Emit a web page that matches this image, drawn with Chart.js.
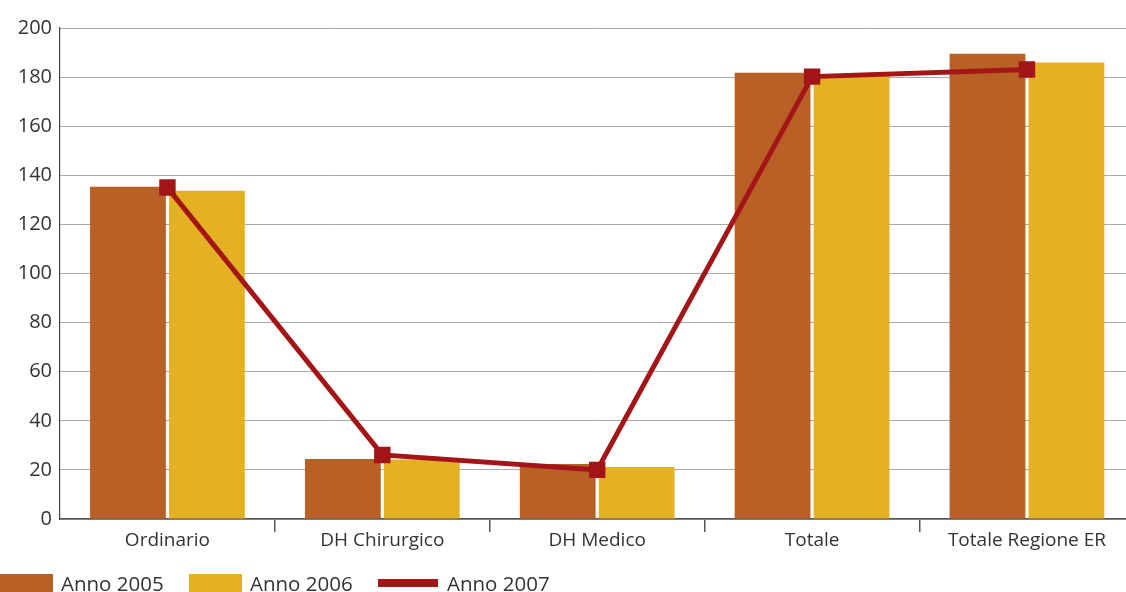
<!DOCTYPE html>
<html>
<head>
<meta charset="utf-8">
<script src="https://cdn.jsdelivr.net/npm/chart.js@4"></script>
<style>
    html, body { margin: 0; padding: 0; background: #fff; overflow: hidden; }
    #wrap { position: relative; width: 1126px; height: 592px; overflow: hidden; }
    #chart { position: absolute; left: 0; top: 0; }
    .lg { position: absolute; font-family: "Open Sans", sans-serif; font-size: 20.5px; line-height: 20.5px; color: #333; white-space: nowrap; }
    .sw { position: absolute; }
</style>
</head>
<body>
<div id="wrap">
    <canvas id="chart" width="1146" height="592"></canvas>
    <div id="legend"></div>
</div>
<script>
// Chart data
const categories = ['Ordinario', 'DH Chirurgico', 'DH Medico', 'Totale', 'Totale Regione ER'];
const anno2005 = [135.3, 24.4, 22.4, 181.8, 189.5];
const anno2006 = [133.7, 24.2, 21.2, 180.5, 185.9];
const anno2007 = [135.0, 26.1, 20.0, 180.2, 183.1];
const seriesNames = ['Anno 2005', 'Anno 2006', 'Anno 2007'];
const yTicks = [0, 20, 40, 60, 80, 100, 120, 140, 160, 180, 200];

const colors = ['#b96026', '#e5b124', '#a41518'];

const ctx = document.getElementById('chart').getContext('2d');
new Chart(ctx, {
    data: {
        labels: categories,
        datasets: [{
            type: 'line',
            label: seriesNames[2],
            data: anno2007,
            borderColor: colors[2],
            backgroundColor: colors[2],
            borderWidth: 5,
            tension: 0,
            pointStyle: 'rect',
            pointRadius: 11.6,
            pointBorderWidth: 0,
            pointBackgroundColor: colors[2],
            order: 0
        }, {
            type: 'bar',
            label: seriesNames[0],
            data: anno2005,
            backgroundColor: colors[0],
            categoryPercentage: 0.735,
            barPercentage: 0.96,
            order: 1
        }, {
            type: 'bar',
            label: seriesNames[1],
            data: anno2006,
            backgroundColor: colors[1],
            categoryPercentage: 0.735,
            barPercentage: 0.96,
            order: 1
        }]
    },
    options: {
        responsive: false,
        animation: false,
        layout: { padding: { top: 28, right: 6, left: 0, bottom: 0 } },
        plugins: {
            legend: { display: false },
            tooltip: { enabled: false }
        },
        scales: {
            x: {
                grid: {
                    offset: true,
                    drawOnChartArea: false,
                    drawTicks: true,
                    tickLength: 13,
                    lineWidth: 1.5,
                    color: function(c) { return c.index === 0 ? 'rgba(0,0,0,0)' : '#555'; }
                },
                border: { display: true, color: '#555', width: 1.5 },
                ticks: { color: '#333', font: { family: '"Open Sans", sans-serif', size: 19 }, padding: -3, maxRotation: 0 },
                afterFit: function(scale) { scale.height = 73; }
            },
            y: {
                min: 0,
                max: 200,
                afterBuildTicks: function(scale) {
                    scale.ticks = yTicks.map(v => ({ value: v }));
                },
                grid: { drawTicks: false, color: '#a8a8a8', lineWidth: 1 },
                border: { display: true, color: '#444', width: 1.2 },
                ticks: { color: '#333', font: { family: '"Open Sans", sans-serif', size: 20 }, padding: 8 },
                afterFit: function(scale) { scale.width = 60; }
            }
        }
    }
});

// HTML legend along the bottom edge
const legendItems = [
    { name: seriesNames[0], color: colors[0], box: [0, 574, 53, 20], text: 61 },
    { name: seriesNames[1], color: colors[1], box: [189, 574, 53, 20], text: 250 },
    { name: seriesNames[2], color: colors[2], box: [378, 579, 60, 8], text: 447 }
];
const legend = document.getElementById('legend');
legendItems.forEach(function(item) {
    const sw = document.createElement('div');
    sw.className = 'sw';
    sw.style.left = item.box[0] + 'px';
    sw.style.top = item.box[1] + 'px';
    sw.style.width = item.box[2] + 'px';
    sw.style.height = item.box[3] + 'px';
    sw.style.background = item.color;
    legend.appendChild(sw);
    const t = document.createElement('div');
    t.className = 'lg';
    t.style.left = item.text + 'px';
    t.style.top = '573px';
    t.textContent = item.name;
    legend.appendChild(t);
});
</script>
</body>
</html>
